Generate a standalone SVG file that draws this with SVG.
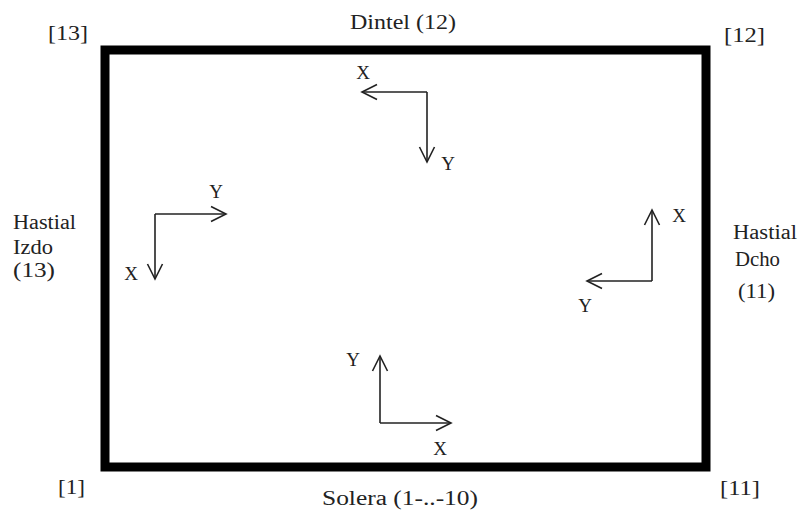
<svg xmlns="http://www.w3.org/2000/svg" width="799" height="525" viewBox="0 0 799 525">
<style>
text{font-family:"Liberation Serif","Times New Roman",serif;font-size:20px;fill:#222}
.ax{font-size:19px;text-anchor:middle}
.axis{stroke:#222;stroke-width:1.6;fill:none;marker-end:url(#arr)}
</style>
<defs>
<marker id="arr" markerUnits="userSpaceOnUse" markerWidth="22" markerHeight="20" viewBox="-18 -10 20 20" refX="0" refY="0" orient="auto">
<path d="M-15,-7.5 L0,0 L-15,7.5" fill="none" stroke="#222" stroke-width="1.6"/>
</marker>
</defs>
<rect width="799" height="525" fill="#fff"/>
<g id="frame">
<rect x="105" y="50" width="601" height="417" fill="none" stroke="#000" stroke-width="9"/>
</g>
<g id="labels">
<text x="48" y="40" textLength="40" lengthAdjust="spacingAndGlyphs">[13]</text>
<text x="350" y="29" textLength="106" lengthAdjust="spacingAndGlyphs">Dintel (12)</text>
<text x="724" y="42" textLength="41" lengthAdjust="spacingAndGlyphs">[12]</text>
<text x="58" y="494" textLength="27" lengthAdjust="spacingAndGlyphs">[1]</text>
<text x="322" y="505" textLength="156" lengthAdjust="spacingAndGlyphs">Solera (1-..-10)</text>
<text x="720" y="495" textLength="40" lengthAdjust="spacingAndGlyphs">[11]</text>
<text x="13" y="229" textLength="63" lengthAdjust="spacingAndGlyphs">Hastial</text>
<text x="13" y="254" textLength="40" lengthAdjust="spacingAndGlyphs">Izdo</text>
<text x="13" y="277" textLength="42" lengthAdjust="spacingAndGlyphs">(13)</text>
<text x="733" y="239" textLength="64" lengthAdjust="spacingAndGlyphs">Hastial</text>
<text x="735" y="266" textLength="45" lengthAdjust="spacingAndGlyphs">Dcho</text>
<text x="738" y="298" textLength="37" lengthAdjust="spacingAndGlyphs">(11)</text>
</g>
<g id="connectors">
<path class="axis" d="M427,92 L362,92"/>
<path class="axis" d="M427,92 L427,162"/>
<path class="axis" d="M155,214 L226,214"/>
<path class="axis" d="M155,214 L155,279"/>
<path class="axis" d="M652,281 L652,210"/>
<path class="axis" d="M652,281 L587,281"/>
<path class="axis" d="M380,423 L380,356"/>
<path class="axis" d="M380,423 L451,423"/>
</g>
<g id="axes-top">
<text class="ax" x="363" y="79">X</text>
<text class="ax" x="448" y="170">Y</text>
</g>
<g id="axes-left">
<text class="ax" x="216" y="198">Y</text>
<text class="ax" x="131" y="280">X</text>
</g>
<g id="axes-right">
<text class="ax" x="679" y="222">X</text>
<text class="ax" x="585" y="312">Y</text>
</g>
<g id="axes-bottom">
<text class="ax" x="353" y="366">Y</text>
<text class="ax" x="440" y="455">X</text>
</g>
</svg>
